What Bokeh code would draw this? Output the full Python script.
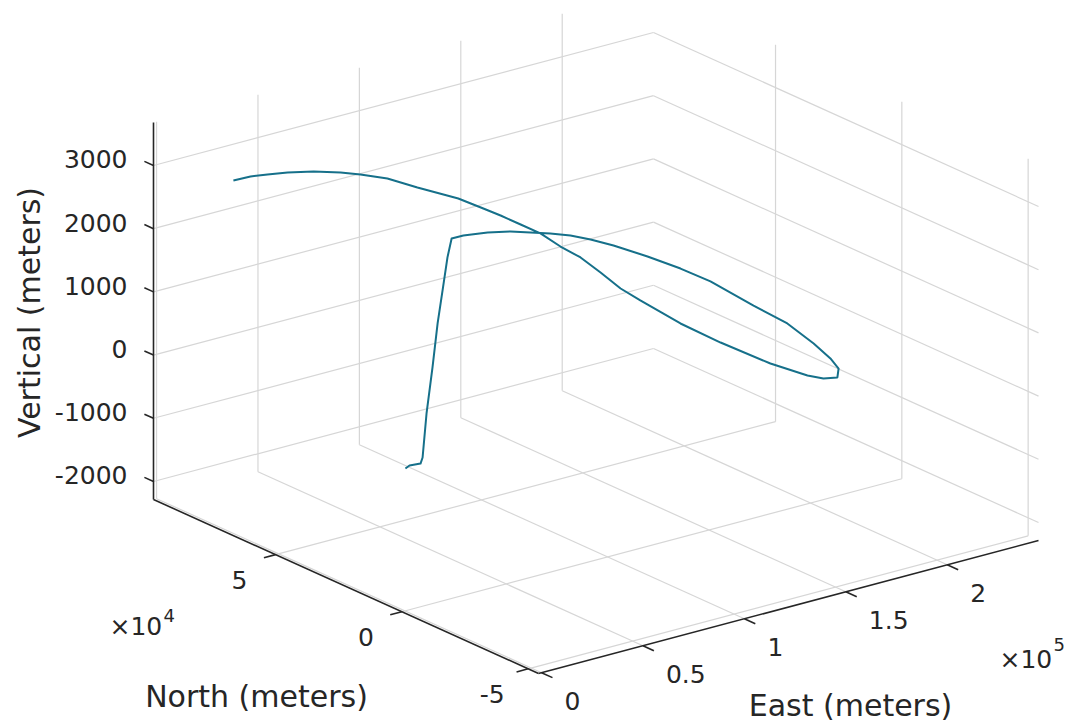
import numpy as np
from bokeh.plotting import figure
from bokeh.models import Range1d
from bokeh.embed import file_html
from bokeh.resources import INLINE
from bokeh.core.properties import value

# ---------------- data (meters) ----------------
east = [79100, 82000, 86300, 87200, 87400, 88100, 88500, 89200, 90000, 90800,
        96100, 105200, 112600, 118100, 124000, 129700, 135400, 140600, 147900, 154200,
        159000, 162300, 167000, 167900, 167200, 165000, 159800, 154800, 151400, 145100,
        139700, 136000, 135000, 134500, 136200, 137300, 136000, 135700, 131800, 127400,
        123000, 116000, 102200, 90400, 79100, 70800, 60100, 48300, 39000, 31000, 21700]
north = [63300, 64000, 63100, 63000, 61600, 59800, 58100, 56700, 55400, 54400,
         54000, 51700, 48600, 45100, 42000, 38600, 35200, 30300, 22700, 14700,
         6700, -7700, -17300, -27000, -34200, -39200, -42900, -41400, -37800, -28200,
         -12800, 100, 15200, 22600, 31900, 40700, 47600, 55300, 60000, 64400,
         67700, 72000, 77100, 79500, 81100, 82300, 84400, 85200, 85700, 86000, 85300]
vertical = [-1850, -1840, -1830, -1740, -1020, -265, 460, 1000, 1540, 1850,
            1860, 1870, 1880, 1880, 1870, 1850, 1800, 1750, 1650, 1550,
            1450, 1300, 1150, 1000, 900, 850, 820, 820, 830, 900,
            1000, 1100, 1200, 1260, 1330, 1400, 1460, 1530, 1620, 1720,
            1810, 1950, 2150, 2350, 2480, 2560, 2630, 2700, 2740, 2770, 2800]

east_lim = (-1500, 245000)
north_lim = (-54100, 98300)
vert_lim = (-2285, 3680)

east_ticks = [0, 50000, 100000, 150000, 200000]
east_tick_labels = ["0", "0.5", "1", "1.5", "2"]
north_ticks = [-50000, 0, 50000]
north_tick_labels = ["-5", "0", "5"]
vert_ticks = [-2000, -1000, 0, 1000, 2000, 3000]
vert_tick_labels = ["-2000", "-1000", "0", "1000", "2000", "3000"]

# ---------------- layout / projection ----------------
W, H, M = 1074, 724, 0
ORIGIN = (538.0, 673.0)     # picture px of (Emin, Nmin, Zmin)
VEC_E = (500.0, -133.0)     # full east range on screen
VEC_N = (-385.0, -174.0)    # full north range on screen
VEC_Z = (0.0, -377.0)       # full vertical range on screen

FONT = "DejaVu Sans"
TXT = "#262626"
GRID = "#d6d6d6"
LINE = "#16708a"


def page(e, n, z):
    e = np.asarray(e, float); n = np.asarray(n, float); z = np.asarray(z, float)
    u = (e - east_lim[0]) / (east_lim[1] - east_lim[0])
    v = (n - north_lim[0]) / (north_lim[1] - north_lim[0])
    w = (z - vert_lim[0]) / (vert_lim[1] - vert_lim[0])
    X = ORIGIN[0] + u * VEC_E[0] + v * VEC_N[0] + w * VEC_Z[0]
    Y = ORIGIN[1] + u * VEC_E[1] + v * VEC_N[1] + w * VEC_Z[1]
    return X, Y


def to_data(X, Y):
    return np.asarray(X, float) - M, (H + M) - np.asarray(Y, float)


def proj(e, n, z):
    return to_data(*page(e, n, z))


p = figure(width=W, height=H, output_backend="svg", toolbar_location=None,
           x_axis_location=None, y_axis_location=None, min_border=0,
           x_range=Range1d(0, W), y_range=Range1d(0, H))
p.grid.visible = False
p.outline_line_color = None
p.background_fill_color = "white"

E0, E1 = east_lim
N0, N1 = north_lim
Z0, Z1 = vert_lim

# ---------------- grid lines ----------------
gx, gy = [], []


def seg(a, b):
    x, y = proj([a[0], b[0]], [a[1], b[1]], [a[2], b[2]])
    gx.append(list(x)); gy.append(list(y))


for e in east_ticks:
    seg((e, N0, Z0), (e, N1, Z0))      # floor
    seg((e, N1, Z0), (e, N1, Z1))      # back wall
for n in north_ticks:
    seg((E0, n, Z0), (E1, n, Z0))      # floor
    seg((E1, n, Z0), (E1, n, Z1))      # right wall
for z in vert_ticks:
    seg((E0, N1, z), (E1, N1, z))      # back wall
    seg((E1, N1, z), (E1, N0, z))      # right wall
p.multi_line(gx, gy, line_color=GRID, line_width=1.2)

# ---------------- trajectory ----------------
tx, ty = proj(east, north, vertical)
p.line(tx, ty, line_color=LINE, line_width=2.0, line_join="round")

# ---------------- axes ----------------
ax, ay = [], []
for a, b in [((E0, N1, Z0), (E0, N1, Z1)),
             ((E0, N0, Z0), (E0, N1, Z0)),
             ((E0, N0, Z0), (E1, N0, Z0))]:
    x, y = proj([a[0], b[0]], [a[1], b[1]], [a[2], b[2]])
    ax.append(list(x)); ay.append(list(y))


def unit(vx, vy):
    L = (vx ** 2 + vy ** 2) ** 0.5
    return vx / L, vy / L


dz = unit(*VEC_N)
dn = unit(-VEC_E[0], -VEC_E[1])
de = unit(-VEC_N[0], -VEC_N[1])

zX, zY = page([E0] * len(vert_ticks), [N1] * len(vert_ticks), vert_ticks)
nX, nY = page([E0] * len(north_ticks), north_ticks, [Z0] * len(north_ticks))
eX, eY = page(east_ticks, [N0] * len(east_ticks), [Z0] * len(east_ticks))

for X, Y, d, L in [(zX, zY, dz, 10), (nX, nY, dn, 12), (eX, eY, de, 12)]:
    for x0, y0 in zip(X, Y):
        x, y = to_data([x0, x0 + d[0] * L], [y0, y0 + d[1] * L])
        ax.append(list(x)); ay.append(list(y))
p.multi_line(ax, ay, line_color=TXT, line_width=1.6)

# ---------------- tick labels ----------------
fs_tick = value("25px")
lx, ly = to_data(zX - 26, zY - 6)
p.text(lx, ly, text=vert_tick_labels, text_font=value(FONT), text_font_size=fs_tick,
       text_color=TXT, text_align="right", text_baseline="middle")
lx, ly = to_data(nX - 36, nY + 25)
p.text(lx, ly, text=north_tick_labels, text_font=value(FONT), text_font_size=fs_tick,
       text_color=TXT, text_align="center", text_baseline="middle")
lx, ly = to_data(eX + 23, eY + 28)
p.text(lx, ly, text=east_tick_labels, text_font=value(FONT), text_font_size=fs_tick,
       text_color=TXT, text_align="left", text_baseline="middle")

# exponent multipliers
mx, my = to_data([109, 999], [626, 659])
p.text(mx, my, text=["\u00d710", "\u00d710"], text_font=value(FONT), text_font_size=fs_tick,
       text_color=TXT, text_align="left", text_baseline="alphabetic")
sx, sy = to_data([163, 1053], [615, 644])
p.text(sx, sy, text=["4", "5"], text_font=value(FONT), text_font_size=value("18px"),
       text_color=TXT, text_align="left", text_baseline="alphabetic")

# ---------------- axis titles ----------------
fs_lab = value("30px")
vx, vy = to_data([29], [312])
p.text(vx, vy, text=["Vertical (meters)"], angle=np.pi / 2, text_font=value(FONT),
       text_font_size=fs_lab, text_color=TXT, text_align="center", text_baseline="middle")
hx, hy = to_data([256, 850], [696, 705])
p.text(hx, hy, text=["North (meters)", "East (meters)"], text_font=value(FONT),
       text_font_size=fs_lab, text_color=TXT, text_align="center", text_baseline="middle")

open("out.html", "w").write(file_html(p, INLINE))
